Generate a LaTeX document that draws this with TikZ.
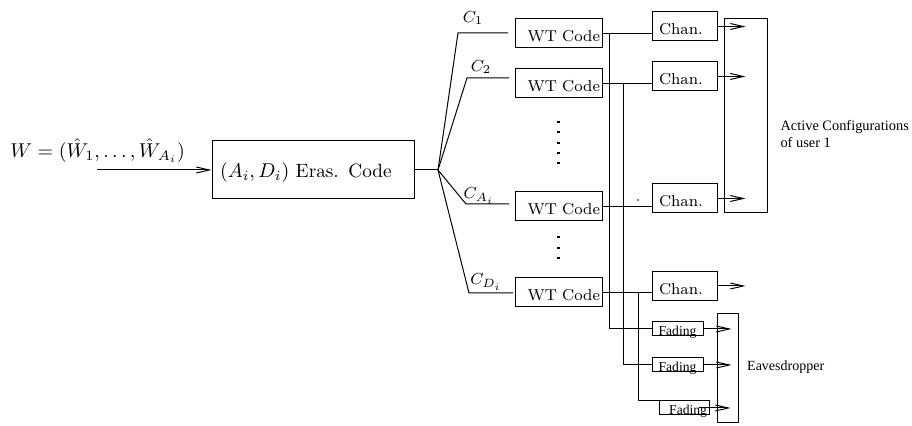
\documentclass[tikz,border=0pt]{standalone}
\usepackage{fontspec}
\newfontfamily\tms{Liberation Serif}
\usetikzlibrary{arrows.meta}
\begin{document}
\begin{tikzpicture}[x=0.5pt,y=-0.5pt,line width=0.5pt,
  box/.style={draw,rectangle,inner sep=0pt},
  arr/.style={-{Straight Barb[length=6.5pt,width=3pt]}},
  wt/.style={box,minimum width=43.5pt,minimum height=14.5pt,text width=41.5pt,align=right,
    text height=8.2pt,text depth=0pt,font=\fontsize{7.9}{9}\selectfont},
  chan/.style={box,minimum width=32.5pt,minimum height=14.5pt,text width=25.5pt,align=left,
    text height=8.4pt,text depth=0pt,font=\fontsize{7.9}{9}\selectfont},
  fad/.style={box,minimum width=25.5pt,minimum height=7pt,text height=7pt,text depth=0pt,
    font=\tms\fontsize{6.8}{8}\selectfont},
  clab/.style={inner sep=0pt,font=\fontsize{7.9}{9}\selectfont},
  tlab/.style={inner sep=0pt,font=\tms\fontsize{7.2}{8.5}\selectfont}]
\useasboundingbox (0,0) rectangle (912,426);

% input
\node[anchor=base west,inner sep=0pt,font=\fontsize{9.6}{11}\selectfont] (wl) at (10,158)
  {$W=(\hat W_1,\ldots,\hat W_{A_i})$};
\node[box,minimum width=101pt,minimum height=29pt,text width=93pt,align=left,
  text height=8pt,text depth=0pt,font=\fontsize{9.6}{11}\selectfont] (era) at (313,170)
  {$(A_i,D_i)$ Eras. Code};
\coordinate (in) at (97,170);
\draw[arr] (in) -- (era.west);

% fan
\coordinate (fan) at (438,170);
\coordinate (c1) at (458,33);  \coordinate (c1e) at (508,33);
\coordinate (c2) at (467,78);  \coordinate (c2e) at (509,78);
\coordinate (ca) at (466,204); \coordinate (cae) at (509,204);
\coordinate (cd) at (469,293); \coordinate (cde) at (513,293);
\draw (era.east) -- (fan);
\draw (fan) -- (c1) -- (c1e);
\draw (fan) -- (c2) -- (c2e);
\draw (fan) -- (ca) -- (cae);
\draw (fan) -- (cd) -- (cde);
\node[clab] (l1) at (473,18) {$C_1$};
\node[clab] (l2) at (481,67) {$C_2$};
\node[clab] (la) at (479,196) {$C_{A_i}$};
\node[clab] (ld) at (486,282) {$C_{D_i}$};

% WT codes
\node[wt] (wt1) at (558.5,33.5) {WT Code};
\node[wt] (wt2) at (558.5,83.5) {WT Code};
\node[wt] (wt3) at (558.5,206.5) {WT Code};
\node[wt] (wt4) at (558.5,292.5) {WT Code};
\foreach \yy in {122,132,143,153,163,237,248,258}
  \fill (557,\yy-0.8) rectangle (560,\yy+0.8);

% channels
\node[chan] (ch1) at (684.5,26.5) {Chan.};
\node[chan] (ch2) at (684.5,76.5) {Chan.};
\node[chan] (ch3) at (684.5,198.5) {Chan.};
\node[chan] (ch4) at (684.5,286) {Chan.};
\draw (wt1.east) -- (wt1.east -| ch1.west);
\draw (wt2.east) -- (wt2.east -| ch2.west);
\draw (wt3.east) -- (wt3.east -| ch3.west);
\draw (wt4.east) -- (wt4.east -| ch4.west);
\fill (638,200) circle (0.4pt);

% active box
\node[box,minimum width=21.5pt,minimum height=97pt] (act) at (745.5,116) {};
\draw[arr] (ch1.east) -- ([xshift=11pt]ch1.east -| act.west);
\draw[arr] (ch2.east) -- ([xshift=11pt]ch2.east -| act.west);
\draw[arr] (ch3.east) -- ([xshift=11pt]ch3.east -| act.west);
\draw[arr] (ch4.east) -- ([xshift=14pt]ch4.east);
\node[tlab,anchor=west,align=left] (actl) at (780,134) {Active Configurations\\of user 1};

% fading
\node[fad] (f1) at (677.5,329) {Fading};
\node[fad] (f2) at (677.5,365) {Fading};
\node[fad,minimum width=25pt,text width=23pt,align=right] (f3) at (684,408) {Fading};
\draw ([xshift=3.5pt]wt1.east) |- (f1.west);
\draw ([xshift=10.5pt]wt2.east) |- (f2.west);
\draw ([xshift=18pt]wt4.east) |- (f3.north west);

% eavesdropper
\node[box,minimum width=10.5pt,minimum height=54.5pt] (eav) at (727.5,368.5) {};
\draw[arr] (f1.east) -- ([xshift=7.5pt]f1.east -| eav.west);
\draw[arr] (f2.east) -- ([xshift=7.5pt]f2.east -| eav.west);
\draw[arr] ([xshift=-5.5pt]f3.east) -- ([xshift=7pt]f3.east -| eav.west);
\node[tlab,anchor=base west,font=\tms\fontsize{7}{8.5}\selectfont] (eavl) at (746.7,371) {Eavesdropper};
\end{tikzpicture}
\end{document}
